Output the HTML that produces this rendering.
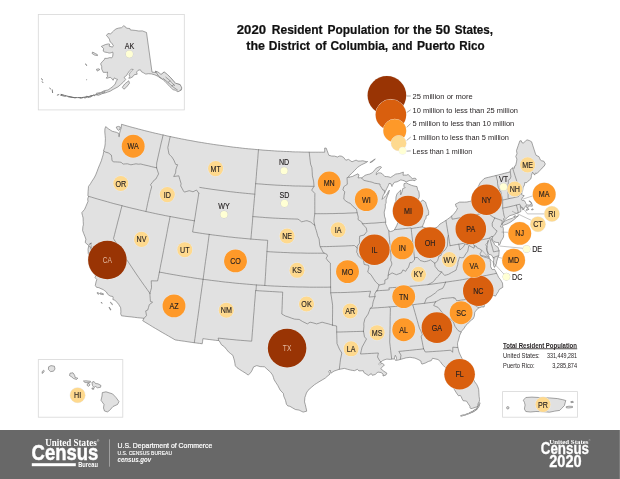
<!DOCTYPE html>
<html><head><meta charset="utf-8"><title>2020 Resident Population</title>
<style>
html,body{margin:0;padding:0;background:#fff;}
body{width:620px;height:479px;overflow:hidden;font-family:"Liberation Sans",sans-serif;}
svg{will-change:transform;display:block;position:absolute;left:0;top:0;}
svg text{font-family:"Liberation Sans",sans-serif;}
.land{fill:#e1e1e1;stroke:#6c6c6c;stroke-width:.6;stroke-linejoin:round;}
.bd{fill:none;stroke:#6c6c6c;stroke-width:.6;stroke-linejoin:round;stroke-linecap:round;}
.box{fill:#fff;stroke:#d8d8d8;stroke-width:.8;}
.pc{stroke:#ececec;stroke-width:.9;paint-order:stroke;}
.pc1{stroke:#c9c9c0;stroke-width:.8;paint-order:stroke;}
.lbl{font-size:8.5px;fill:#231f20;text-anchor:middle;stroke:#231f20;stroke-width:.14;}
.keys1{fill:none;stroke:#6c6c6c;stroke-width:1.5;stroke-linecap:round;}
.keys2{fill:none;stroke:#e1e1e1;stroke-width:.6;stroke-linecap:round;}
.lbl.lt{fill:#e4bba3;stroke:none;}
.lg{font-size:8.1px;fill:#231f20;}
.ld{fill:none;stroke:#8a8a8a;stroke-width:.5;}
.lt2{fill:none;stroke:#555;stroke-width:.5;}
.ttl{font-size:13.4px;font-weight:bold;fill:#111;text-anchor:start;stroke:#111;stroke-width:.22;}
.tp{font-size:6.8px;fill:#231f20;}
</style></head><body>
<svg width="620" height="479" viewBox="0 0 620 479">
<rect x="0" y="0" width="620" height="479" fill="#fff"/>
<text x="236.8" y="33.75" class="ttl" textLength="29.3" lengthAdjust="spacingAndGlyphs">2020</text>
<text x="271.8" y="33.75" class="ttl" textLength="50.8" lengthAdjust="spacingAndGlyphs">Resident</text>
<text x="327.5" y="33.75" class="ttl" textLength="61.8" lengthAdjust="spacingAndGlyphs">Population</text>
<text x="393.9" y="33.75" class="ttl" textLength="15.3" lengthAdjust="spacingAndGlyphs">for</text>
<text x="413" y="33.75" class="ttl" textLength="18.8" lengthAdjust="spacingAndGlyphs">the</text>
<text x="435.6" y="33.75" class="ttl" textLength="14.7" lengthAdjust="spacingAndGlyphs">50</text>
<text x="454.8" y="33.75" class="ttl" textLength="38.2" lengthAdjust="spacingAndGlyphs">States,</text>
<text x="246.3" y="49.7" class="ttl" textLength="18.7" lengthAdjust="spacingAndGlyphs">the</text>
<text x="268.8" y="49.7" class="ttl" textLength="41.3" lengthAdjust="spacingAndGlyphs">District</text>
<text x="315.3" y="49.7" class="ttl" textLength="11.3" lengthAdjust="spacingAndGlyphs">of</text>
<text x="330.5" y="49.7" class="ttl" textLength="57.7" lengthAdjust="spacingAndGlyphs">Columbia,</text>
<text x="392" y="49.7" class="ttl" textLength="20.4" lengthAdjust="spacingAndGlyphs">and</text>
<text x="416.9" y="49.7" class="ttl" textLength="38.4" lengthAdjust="spacingAndGlyphs">Puerto</text>
<text x="459.3" y="49.7" class="ttl" textLength="25.3" lengthAdjust="spacingAndGlyphs">Rico</text>
<g id="conus">
<path class="land" d="M105.7,126.6 L107.2,127.8 L108.7,129.0 L110.5,130.2 L112.3,131.3 L114.4,131.8 L116.4,132.3 L118.9,133.5 L118.8,136.6 L119.3,136.7 L119.6,133.3 L120.2,130.8 L121.3,127.6 L121.5,124.3 L124.3,125.1 L127.1,125.9 L129.9,126.7 L132.8,127.5 L135.6,128.2 L138.5,129.0 L141.3,129.7 L144.2,130.5 L147.0,131.2 L149.9,131.9 L152.7,132.6 L155.6,133.3 L158.5,133.9 L161.3,134.6 L164.2,135.2 L167.1,135.9 L169.9,136.5 L172.8,137.1 L175.7,137.7 L178.6,138.3 L181.5,138.9 L184.3,139.4 L187.2,140.0 L190.1,140.5 L193.0,141.0 L195.9,141.6 L198.8,142.1 L201.7,142.5 L204.6,143.0 L207.5,143.5 L210.4,143.9 L213.3,144.4 L216.2,144.8 L219.2,145.2 L222.1,145.6 L225.0,146.0 L227.9,146.4 L230.8,146.8 L233.7,147.2 L236.7,147.5 L239.6,147.8 L242.5,148.2 L245.4,148.5 L248.4,148.8 L251.3,149.0 L254.2,149.3 L257.2,149.6 L260.1,149.8 L263.0,150.1 L265.9,150.3 L268.9,150.5 L271.8,150.7 L274.8,150.9 L277.7,151.1 L280.6,151.2 L283.6,151.4 L286.5,151.5 L289.4,151.6 L292.4,151.8 L295.3,151.9 L298.3,151.9 L301.2,152.0 L304.1,152.1 L307.1,152.1 L310.0,152.2 L313.0,152.2 L315.9,152.2 L318.8,152.2 L321.8,152.2 L324.7,152.2 L324.7,148.0 L326.2,148.1 L327.2,150.8 L328.2,153.5 L328.9,155.3 L331.5,156.0 L333.0,156.1 L334.5,156.1 L337.4,157.0 L339.4,156.0 L341.2,156.1 L343.5,157.3 L345.8,160.2 L348.5,159.4 L350.3,160.6 L352.0,161.8 L354.1,160.9 L356.1,160.1 L358.0,161.1 L360.5,161.0 L362.9,160.8 L364.9,161.3 L366.8,161.7 L367.6,161.5 L366.2,162.5 L363.8,163.7 L361.4,164.8 L359.5,166.0 L357.6,167.3 L356.1,168.9 L354.6,170.4 L353.1,172.0 L351.6,173.5 L350.0,174.9 L348.5,176.3 L349.1,177.2 L350.7,176.8 L352.3,176.5 L355.3,175.0 L358.0,173.8 L359.0,175.0 L358.0,177.9 L360.5,177.7 L361.5,178.0 L363.3,176.7 L365.0,175.4 L366.5,174.8 L368.1,174.4 L369.8,174.0 L372.5,172.5 L375.0,169.7 L376.4,168.0 L377.9,167.3 L379.3,166.7 L380.5,166.6 L381.5,167.2 L379.6,169.4 L377.8,171.5 L376.4,172.7 L376.3,174.8 L378.3,172.9 L380.6,172.9 L382.2,173.7 L384.8,176.5 L386.4,176.6 L388.0,176.7 L390.7,177.4 L393.2,175.7 L395.6,174.1 L397.4,173.8 L399.3,173.6 L401.3,172.8 L403.4,172.1 L403.0,175.2 L404.7,175.1 L406.5,175.1 L408.3,174.5 L410.6,177.1 L412.4,178.5 L415.1,178.2 L416.4,179.1 L415.0,180.7 L412.6,180.2 L410.8,180.4 L409.1,180.6 L406.3,181.9 L404.0,180.7 L402.4,180.3 L400.8,179.9 L398.9,180.9 L397.1,181.8 L394.4,182.3 L392.3,185.3 L392.0,186.5 L391.0,183.8 L389.0,183.4 L388.4,185.3 L386.7,188.7 L384.7,192.8 L383.0,195.8 L382.4,198.1 L382.1,199.4 L383.9,197.6 L386.5,195.1 L388.5,191.3 L389.4,190.2 L388.7,193.0 L387.4,195.9 L386.1,199.9 L386.1,203.4 L385.3,204.1 L385.3,208.0 L384.2,212.1 L384.5,216.1 L385.6,219.5 L385.7,222.2 L385.6,223.7 L386.7,226.3 L387.8,228.9 L388.8,230.8 L390.4,231.6 L393.1,230.8 L394.5,229.7 L396.7,225.6 L398.2,222.0 L398.3,217.7 L397.6,215.2 L396.8,212.8 L395.8,210.5 L394.8,208.2 L395.1,204.8 L394.5,203.6 L395.8,201.3 L396.0,197.0 L397.0,193.9 L399.3,191.4 L400.7,190.1 L400.7,192.4 L400.7,194.8 L402.1,191.6 L402.8,188.5 L405.2,187.6 L403.9,186.3 L404.0,183.7 L406.4,182.9 L408.6,184.1 L411.7,185.4 L414.0,186.0 L417.0,186.6 L417.6,189.7 L418.9,191.8 L419.2,194.0 L419.3,196.6 L418.6,198.6 L417.0,201.7 L415.9,205.8 L418.6,204.9 L419.6,203.1 L420.5,201.8 L422.8,200.1 L425.6,202.2 L426.3,204.7 L427.1,207.1 L428.7,211.5 L428.6,214.9 L426.2,215.8 L426.0,218.7 L424.7,219.8 L424.2,222.3 L423.1,224.8 L422.3,226.8 L422.8,227.1 L425.8,227.8 L426.8,228.6 L428.6,228.1 L428.9,229.1 L430.6,229.0 L432.3,228.8 L433.2,228.3 L435.1,227.8 L437.1,227.3 L438.5,225.7 L440.0,224.0 L441.9,222.9 L443.8,221.7 L445.9,220.4 L447.6,219.2 L449.2,218.0 L451.6,216.2 L453.0,214.7 L454.5,213.1 L456.5,210.4 L457.5,208.1 L456.3,207.0 L455.4,204.2 L457.4,203.2 L459.5,202.1 L462.0,202.1 L464.5,202.1 L466.9,202.0 L469.3,201.5 L471.7,200.9 L473.4,199.4 L475.2,197.9 L477.4,196.5 L476.7,193.2 L475.4,191.2 L475.0,190.4 L476.4,188.9 L477.8,187.5 L479.0,185.1 L480.2,182.7 L482.1,180.7 L484.1,178.6 L486.0,177.9 L488.5,177.3 L491.0,176.7 L493.5,176.1 L496.0,175.5 L498.8,174.8 L501.7,174.1 L504.5,173.3 L507.4,172.6 L510.2,171.9 L510.4,169.6 L511.8,168.7 L512.6,167.9 L514.5,168.2 L514.4,166.2 L515.5,165.9 L516.5,161.9 L516.9,159.1 L515.8,156.5 L517.0,153.7 L516.5,150.5 L518.2,145.6 L519.9,140.8 L521.3,140.8 L521.9,142.6 L523.2,143.1 L525.4,141.2 L527.0,139.8 L529.7,140.7 L531.6,141.8 L532.9,145.9 L534.2,149.9 L535.5,153.9 L536.1,155.3 L539.0,156.7 L540.3,159.9 L541.7,160.8 L543.7,161.1 L545.3,163.9 L544.1,166.3 L542.7,167.3 L541.6,168.9 L539.6,170.6 L538.7,171.7 L537.1,173.4 L535.3,173.1 L534.7,175.1 L532.6,172.2 L531.4,175.4 L531.4,176.6 L530.8,178.9 L529.1,180.4 L528.0,181.1 L526.8,182.6 L524.7,182.6 L524.5,184.9 L523.7,186.4 L523.0,187.8 L522.7,190.4 L522.0,191.3 L521.8,193.4 L521.8,194.3 L522.7,195.4 L524.1,195.5 L523.7,196.6 L522.3,197.6 L521.6,199.8 L522.3,200.6 L522.9,200.1 L524.5,200.8 L525.5,202.5 L525.8,203.4 L527.2,205.0 L529.3,205.1 L531.5,203.8 L530.6,202.3 L529.1,201.3 L528.8,201.0 L529.8,200.9 L531.3,202.4 L532.2,204.9 L532.3,206.2 L529.7,206.0 L527.4,207.6 L526.9,208.1 L526.6,205.7 L525.8,205.7 L524.6,207.8 L523.7,209.2 L523.4,209.4 L522.8,209.9 L521.8,207.9 L520.2,206.6 L520.9,209.9 L520.8,211.6 L517.9,212.9 L516.0,213.6 L514.1,214.4 L511.9,215.1 L509.7,215.7 L507.5,217.4 L505.0,219.6 L504.2,220.1 L503.5,221.5 L503.5,222.5 L502.3,223.0 L502.0,224.0 L501.4,224.7 L500.4,226.7 L501.1,227.1 L502.7,226.5 L503.3,228.3 L503.3,230.9 L503.7,234.5 L503.5,237.0 L502.1,239.5 L501.1,240.8 L499.9,244.5 L498.7,245.3 L498.6,242.5 L496.1,242.4 L493.9,241.5 L492.5,240.1 L491.9,238.7 L491.8,239.1 L492.0,240.8 L493.6,242.1 L494.6,244.7 L495.8,245.9 L497.9,247.0 L498.3,248.1 L499.1,250.8 L499.1,252.2 L498.8,255.7 L497.9,257.4 L496.6,261.8 L496.5,263.5 L495.3,266.1 L494.5,267.4 L493.6,265.6 L493.4,263.0 L493.6,260.4 L494.1,257.9 L493.0,257.6 L491.8,255.3 L490.1,254.5 L489.1,254.7 L488.1,253.2 L487.4,250.6 L487.0,248.8 L487.3,246.6 L487.1,245.5 L487.8,242.6 L488.5,240.4 L487.9,240.6 L487.8,242.2 L486.5,243.7 L485.8,244.7 L486.5,246.2 L486.4,247.5 L486.6,250.6 L488.1,253.7 L487.9,254.7 L489.4,257.4 L486.6,256.7 L483.3,255.9 L481.0,255.7 L483.4,256.8 L486.8,257.7 L490.2,259.1 L490.3,261.6 L490.6,262.2 L490.7,263.6 L490.6,265.4 L490.6,266.5 L491.8,269.2 L492.2,269.5 L494.6,269.4 L495.1,270.2 L496.6,273.3 L497.7,275.4 L498.6,277.3 L500.4,279.5 L501.5,281.3 L502.5,283.1 L502.8,287.3 L501.0,288.4 L499.1,289.6 L498.4,291.5 L496.9,293.8 L495.4,296.2 L493.9,295.3 L492.0,296.0 L490.2,296.8 L488.2,298.5 L486.2,300.5 L484.8,302.9 L484.1,307.0 L481.8,306.9 L478.8,307.9 L476.1,310.3 L474.8,312.2 L474.3,316.3 L473.2,318.8 L471.1,320.3 L468.6,322.7 L467.0,324.5 L465.4,325.9 L464.3,328.0 L462.3,330.4 L460.9,332.0 L461.1,332.3 L459.7,335.4 L458.8,338.9 L457.7,342.5 L457.5,343.9 L457.7,345.9 L457.8,347.5 L458.0,347.8 L459.0,352.0 L459.9,354.1 L460.9,356.2 L462.1,358.6 L463.3,361.0 L464.7,363.6 L466.0,365.3 L468.3,368.2 L470.6,371.1 L470.2,372.9 L470.9,375.3 L472.2,377.5 L473.6,379.7 L474.7,381.8 L476.6,384.3 L477.9,386.9 L478.7,389.6 L478.9,392.9 L479.1,396.3 L479.5,399.6 L479.4,401.1 L478.0,403.8 L477.8,406.6 L475.2,407.4 L472.5,408.3 L471.0,408.6 L469.9,407.7 L469.9,406.2 L468.2,403.7 L466.5,401.1 L463.1,400.7 L462.0,398.7 L461.2,396.5 L460.0,395.4 L458.5,395.8 L456.4,392.9 L454.0,388.9 L452.4,386.6 L450.3,384.6 L450.5,383.8 L452.1,383.0 L452.5,379.8 L451.2,382.0 L448.9,379.8 L448.9,377.8 L449.3,375.3 L449.0,372.3 L448.7,369.4 L445.1,367.3 L443.5,365.6 L442.1,364.3 L440.5,361.8 L438.0,359.5 L435.2,358.9 L432.5,358.3 L431.3,360.6 L428.3,361.5 L425.2,363.1 L421.9,364.1 L421.2,362.7 L420.9,361.0 L418.0,359.4 L414.9,358.1 L412.4,357.7 L410.0,357.3 L408.0,357.6 L406.1,357.8 L403.8,358.5 L400.3,359.4 L398.6,360.0 L395.5,360.4 L396.5,358.4 L396.2,357.0 L395.3,355.3 L394.5,357.4 L394.4,359.3 L393.1,358.9 L391.7,359.1 L390.3,359.4 L386.9,359.1 L385.0,359.6 L382.6,360.6 L381.0,362.0 L379.4,363.4 L382.3,363.4 L384.4,364.9 L382.6,366.8 L380.7,368.6 L383.8,371.2 L386.9,373.2 L385.8,375.1 L383.0,376.0 L383.1,374.0 L381.0,372.5 L378.0,372.1 L377.1,372.7 L375.2,374.5 L372.3,375.3 L371.3,373.6 L368.4,375.5 L366.1,374.0 L363.9,372.6 L363.3,370.7 L361.1,370.8 L358.9,370.9 L357.4,369.3 L354.5,370.7 L352.5,370.4 L350.6,370.1 L347.5,369.3 L344.4,368.4 L341.9,368.9 L339.3,369.3 L336.7,370.2 L334.0,371.1 L330.9,373.2 L330.1,370.0 L328.7,371.7 L330.1,374.0 L327.0,376.5 L325.3,378.1 L322.1,380.0 L318.9,381.9 L316.7,383.3 L314.5,384.7 L311.2,387.5 L308.0,390.4 L306.4,393.0 L305.7,395.2 L304.9,397.4 L304.5,401.9 L305.3,404.6 L305.9,407.3 L306.5,410.0 L306.7,411.2 L303.1,412.1 L301.1,411.1 L299.1,410.1 L295.4,409.5 L292.6,407.9 L289.9,406.3 L287.8,405.9 L286.4,404.2 L285.5,400.3 L283.8,396.3 L283.4,393.5 L280.1,390.0 L277.8,385.5 L275.9,382.6 L274.1,379.7 L273.4,377.4 L272.6,375.1 L270.5,372.2 L269.1,371.0 L266.8,368.9 L264.5,366.8 L262.3,366.7 L260.1,366.6 L256.8,365.6 L253.6,366.9 L251.7,371.1 L250.4,372.9 L248.3,375.1 L245.0,372.8 L242.5,371.3 L239.7,369.5 L236.9,367.6 L235.3,365.8 L234.9,363.3 L234.5,360.9 L233.7,358.2 L232.9,355.4 L230.6,353.6 L228.4,351.8 L226.5,349.4 L224.5,346.9 L221.4,344.7 L219.4,341.1 L218.7,340.6 L215.5,340.3 L212.4,339.9 L209.2,339.5 L206.0,339.1 L202.9,338.7 L202.6,341.3 L202.2,343.8 L199.6,343.4 L196.9,343.1 L194.3,342.7 L191.1,342.3 L187.9,341.8 L184.8,341.3 L181.6,340.9 L178.4,340.4 L175.2,339.9 L171.9,338.0 L168.6,336.1 L165.3,334.2 L162.1,332.4 L158.8,330.4 L155.5,328.5 L152.3,326.6 L149.1,324.6 L145.9,322.7 L142.7,320.7 L144.0,318.3 L140.8,318.0 L137.6,317.7 L134.4,317.3 L131.2,316.9 L128.0,316.6 L124.7,316.2 L121.5,315.8 L120.7,313.9 L120.9,311.9 L120.7,307.8 L118.6,304.3 L116.9,302.3 L114.8,300.1 L112.9,299.6 L113.1,297.3 L112.8,296.5 L110.1,296.0 L107.7,294.3 L106.4,292.0 L104.8,290.8 L103.2,289.6 L101.0,288.7 L98.9,287.7 L96.5,287.3 L95.3,285.5 L96.0,281.9 L96.8,279.5 L95.0,277.6 L95.7,276.0 L94.1,273.8 L92.9,272.1 L91.5,268.3 L90.2,264.5 L89.4,263.7 L90.0,260.0 L91.8,258.5 L90.3,256.3 L88.3,253.8 L88.0,249.2 L88.7,246.1 L90.0,246.2 L91.3,250.4 L92.1,250.9 L91.1,246.6 L91.0,245.1 L90.4,243.4 L91.6,243.2 L89.6,243.8 L89.1,245.4 L88.6,245.5 L86.9,244.0 L85.2,242.5 L85.9,239.2 L84.9,236.5 L83.7,233.5 L82.6,230.5 L82.9,226.5 L83.4,224.9 L83.2,221.4 L83.1,217.9 L82.4,215.3 L81.8,212.7 L84.6,209.3 L85.8,206.6 L86.9,204.0 L88.0,201.4 L87.7,199.0 L88.5,196.3 L87.9,195.5 L88.1,191.4 L88.3,188.9 L88.5,186.4 L90.5,183.7 L91.8,181.4 L94.1,178.0 L95.7,174.9 L97.0,171.6 L98.2,168.3 L99.7,164.7 L101.3,160.8 L102.2,157.8 L103.1,154.9 L103.8,151.2 L103.6,150.6 L104.7,147.2 L105.2,143.8 L105.2,142.6 L105.4,138.6 L105.1,135.3 L104.8,132.0 L104.9,128.9Z"/>
<path class="land" d="M502.0,224.9 L502.3,223.7 L503.1,222.6 L504.0,221.8 L505.7,220.6 L507.4,219.9 L509.1,219.3 L510.7,218.7 L512.4,218.2 L513.8,216.8 L515.2,215.4 L514.4,217.5 L516.5,216.5 L518.6,215.6 L516.3,217.6 L514.1,219.5 L512.2,220.9 L510.4,222.2 L508.5,223.2 L506.5,224.2 L504.9,224.7 L503.3,225.3 L502.5,225.4Z"/>
<path class="land" d="M116.2,127.1 L118.4,126.4 L120.4,127.0 L120.0,128.9 L118.7,130.4 L117.4,129.5Z M369.9,162.6 L372.0,161.0 L374.2,159.5 L375.3,159.1 L373.7,160.5 L372.1,161.9Z M100.5,292.8 L103.5,293.8 L103.3,294.7 L100.1,294.1Z M97.2,292.5 L99.4,293.3 L98.6,294.3 L97.4,293.7Z M110.5,302.2 L112.7,304.2 L112.3,304.7 L110.4,302.8Z M109.3,307.1 L111.0,310.0 L110.5,310.1 L109.1,307.4Z M101.1,302.2 L102.3,303.2 L101.6,303.2Z M526.1,210.3 L527.6,208.4 L529.1,209.2 L527.2,210.2Z M531.3,209.5 L532.9,208.8 L533.3,209.5 L531.9,210.0Z"/>
<ellipse id="pontch" cx="379.8" cy="363.9" rx="1.4" ry=".8" fill="#fff" stroke="#8c8c8c" stroke-width=".4" transform="rotate(-20 379.8 363.9)"/>
<path class="bd" d="M104.0,151.0 L105.3,152.0 L108.3,152.9 L109.8,153.9 L111.3,155.0 L111.8,157.8 L112.0,160.7 L113.8,161.9 L115.7,161.9 L117.5,162.0 L119.3,162.1 L121.1,162.3 L123.1,164.1 L125.3,163.9 L127.5,163.8 L129.2,164.3 L130.9,164.8 L133.5,164.3 L136.0,163.8 L138.3,164.2 L140.8,164.0 L143.4,164.7 L146.0,165.3 L148.7,165.9 L151.3,166.6 L153.9,167.2 L156.6,167.8 M163.1,135.0 L162.2,139.0 L161.2,142.9 L160.3,146.9 L159.4,150.9 L158.5,154.9 L157.6,159.0 L156.7,163.0 L156.6,165.4 L156.6,167.8 M156.6,167.8 L157.6,170.9 L158.6,173.9 L157.2,176.5 L155.8,179.1 L154.4,179.9 L152.4,182.4 L150.5,184.8 L151.7,186.8 L151.0,189.2 L150.3,191.7 L149.4,195.6 L148.5,199.6 L147.6,203.5 L146.8,207.5 L145.9,211.5 M88.5,196.3 L91.6,197.2 L94.8,198.2 L97.9,199.1 L101.1,200.0 L104.3,200.9 L107.5,201.8 L110.6,202.7 L113.8,203.6 L117.0,204.4 L120.2,205.2 L123.4,206.1 L126.6,206.9 L129.8,207.7 L133.0,208.5 L136.2,209.2 L139.4,210.0 L142.6,210.7 L145.8,211.5 L149.1,212.2 L152.3,212.9 L155.5,213.6 L158.7,214.3 L162.0,214.9 L165.2,215.6 L168.4,216.2 L171.7,216.8 L174.9,217.4 L178.2,218.0 L181.4,218.6 L184.7,219.2 L187.9,219.7 L191.2,220.3 L194.4,220.8 M122.0,205.7 L120.9,209.8 L119.9,213.9 L118.8,218.0 L117.7,222.1 L116.7,226.2 L115.6,230.3 L114.6,234.4 L113.5,238.6 L115.9,242.5 L118.4,246.5 L120.8,250.4 L123.3,254.3 L125.8,258.3 L128.4,262.2 L131.0,266.1 L133.6,270.0 L136.2,273.9 L138.9,277.8 L141.6,281.7 L144.3,285.5 L147.1,289.4 L149.9,293.3 M149.9,293.3 L150.0,295.6 L150.2,298.5 L150.4,301.4 L152.6,302.2 L149.3,304.7 L148.5,307.4 L147.7,310.1 L145.7,310.9 L146.5,315.6 L144.0,318.3 M149.9,293.3 L150.7,290.5 L151.5,287.8 L151.4,284.3 L151.2,280.8 L154.4,280.9 L157.6,280.9 L158.5,276.5 L159.4,272.1 M159.4,272.1 L160.2,267.8 L161.0,263.5 L161.9,259.2 L162.7,255.0 L163.5,250.7 L164.3,246.4 L165.1,242.1 L166.0,237.9 L166.8,233.6 L167.6,229.3 L168.4,225.1 L169.3,220.8 L170.1,216.5 M159.4,272.1 L162.9,272.7 L166.3,273.4 L169.8,274.0 L173.2,274.6 L176.7,275.2 L180.2,275.8 L183.6,276.4 L187.1,276.9 L190.6,277.4 L194.0,278.0 L197.5,278.5 L201.0,279.0 L204.5,279.5 L208.0,279.9 L211.4,280.4 L214.9,280.8 L218.4,281.2 L221.9,281.7 L225.4,282.1 L228.9,282.4 L232.4,282.8 L235.9,283.2 L239.4,283.5 L242.9,283.8 L246.4,284.1 L249.9,284.4 L253.4,284.7 L256.9,285.0 L260.4,285.2 L263.9,285.4 L267.4,285.7 L270.9,285.9 L274.4,286.1 L277.9,286.2 L281.5,286.4 L285.0,286.5 L288.5,286.7 L292.0,286.8 L295.5,286.9 L299.0,287.0 L302.5,287.0 L306.0,287.1 L309.6,287.2 L313.1,287.2 L316.6,287.2 L320.1,287.2 L323.6,287.2 L327.1,287.2 L330.6,287.1 M203.1,279.3 L203.7,274.8 L204.3,270.3 L204.9,265.8 L205.5,261.3 L206.2,256.8 L206.8,252.4 L207.4,247.9 L208.0,243.4 L208.6,238.9 L209.2,234.4 M194.4,220.8 L193.8,224.5 L193.2,228.2 L192.6,232.0 L196.0,232.5 L199.3,233.0 L202.6,233.5 L205.9,234.0 L209.2,234.4 M194.4,220.8 L195.1,216.9 L195.7,212.9 L196.3,209.0 L196.9,205.0 L197.6,201.1 L198.2,197.1 L198.8,193.2 M198.8,193.2 L196.5,190.0 L193.0,191.8 L191.1,191.2 L189.2,190.7 L186.8,191.4 L184.4,192.1 L183.4,190.9 L182.1,188.4 L180.7,185.9 L181.1,183.7 L179.9,179.7 L178.8,175.8 L176.2,176.2 L173.7,176.5 L175.6,172.9 L175.9,169.5 L176.7,167.1 L177.6,164.7 L175.7,164.4 L173.8,160.0 L171.7,156.7 L170.4,155.5 L169.0,154.2 L168.4,150.9 L167.8,147.6 L168.6,143.9 L169.4,140.2 L170.2,136.5 M199.8,187.4 L202.8,187.9 L205.8,188.4 L208.9,188.8 L211.9,189.3 L215.0,189.7 L218.0,190.1 L221.1,190.5 L224.1,190.9 L227.2,191.3 L230.2,191.7 L233.3,192.0 L236.4,192.4 L239.4,192.7 L242.5,193.0 L245.6,193.3 L248.6,193.6 L251.7,193.9 L254.8,194.2 M258.5,149.7 L258.1,154.1 L257.8,158.5 L257.4,163.0 L257.0,167.4 L256.6,171.8 L256.3,176.3 L255.9,180.8 L255.5,185.2 L255.1,189.7 L254.8,194.2 L254.4,198.6 L254.0,203.1 L253.6,207.6 L253.2,212.1 L252.8,216.6 L252.5,221.1 L252.1,225.6 L251.7,230.1 L251.3,234.6 L250.9,239.1 M255.6,183.7 L258.7,183.9 L261.8,184.1 L264.8,184.4 L267.9,184.6 L271.0,184.8 L274.1,185.0 L277.1,185.2 L280.2,185.3 L283.3,185.5 L286.3,185.6 L289.4,185.7 L292.5,185.9 L295.6,186.0 L298.6,186.0 L301.7,186.1 L304.8,186.2 L307.9,186.2 L311.0,186.3 L314.0,186.3 M252.8,216.6 L256.1,216.8 L259.3,217.1 L262.5,217.3 L265.7,217.6 L269.0,217.8 L272.2,218.0 L275.4,218.2 L278.6,218.3 L281.9,218.5 L285.1,218.6 L288.3,218.8 L291.6,218.9 L294.8,219.0 L298.0,219.1 L299.8,220.4 L301.6,221.8 L303.5,221.4 L305.3,220.9 L307.0,220.7 L308.9,221.4 L310.8,222.1 L312.7,223.8 L314.7,225.1 M209.2,234.4 L212.5,234.9 L215.7,235.3 L219.0,235.7 L222.2,236.1 L225.4,236.5 L228.7,236.9 L231.9,237.2 L235.2,237.6 L238.4,237.9 L241.7,238.2 L244.9,238.5 L248.2,238.8 L251.4,239.1 L254.7,239.4 L257.9,239.6 L261.2,239.9 L264.4,240.1 L267.7,240.3 L267.4,244.8 L267.1,249.3 L266.8,253.9 L266.5,258.4 L266.2,262.9 L265.9,267.4 L265.7,271.9 L265.4,276.5 L265.1,281.0 L264.8,285.5 M267.0,251.6 L270.3,251.8 L273.7,252.0 L277.1,252.2 L280.4,252.3 L283.8,252.5 L287.2,252.6 L290.5,252.8 L293.9,252.9 L297.3,253.0 L300.7,253.0 L304.0,253.1 L307.4,253.2 L310.8,253.2 L314.2,253.2 L317.5,253.2 L320.9,253.2 L324.3,253.2 M203.1,279.3 L202.5,283.5 L201.9,287.7 L201.3,292.0 L200.7,296.2 L200.1,300.5 L199.5,304.7 L199.0,308.9 L198.4,313.1 L197.8,317.4 L197.2,321.6 L196.6,325.8 L196.0,330.0 L195.5,334.3 L194.9,338.5 L194.3,342.7 M256.4,284.9 L256.2,287.7 L256.0,290.6 L255.6,290.5 L255.3,294.8 L255.0,299.0 L254.6,303.2 L254.3,307.4 L254.0,311.7 L253.6,315.9 L253.3,320.1 L253.0,324.3 L252.7,328.6 L252.3,332.8 L252.0,337.0 L251.7,341.2 L247.9,340.9 L244.2,340.6 L240.5,340.3 L236.8,340.0 L233.0,339.6 L229.3,339.3 L225.6,338.9 L221.9,338.5 L218.1,338.1 L218.7,340.6 M256.0,290.6 L259.3,290.8 L262.7,291.0 L266.0,291.2 L269.3,291.4 L272.7,291.6 L276.0,291.8 L279.4,292.0 L282.7,292.1 L282.5,296.5 L282.3,300.9 L282.2,305.3 L282.0,309.6 L281.8,314.0 L283.6,315.0 L285.4,316.0 L289.0,317.2 L291.7,318.2 L294.5,319.1 L296.8,319.3 L299.1,319.4 L302.7,321.6 L305.0,322.7 L307.3,323.9 L310.1,322.2 L312.9,322.8 L316.6,323.9 L319.3,323.1 L322.1,322.2 L325.3,323.1 L328.6,323.9 L330.5,324.5 L332.5,325.1 M330.6,287.1 L330.7,289.9 L330.7,292.8 L331.4,296.9 L332.0,301.0 L332.6,305.2 L332.6,309.2 L332.6,313.1 L332.5,317.1 L332.5,321.1 L332.5,325.1 M332.5,325.1 L334.5,325.6 L336.6,326.0 L336.7,329.0 L336.7,332.0 L336.8,335.9 L336.9,339.7 L337.0,343.6 L338.2,346.3 L339.4,349.1 L341.8,353.0 L341.2,356.1 L340.5,359.2 L340.1,362.6 L339.7,365.9 L339.3,369.3 M336.7,332.0 L340.1,332.0 L343.4,331.9 L346.8,331.8 L350.1,331.7 L353.5,331.6 L356.8,331.5 L360.2,331.4 L363.5,331.3 M363.5,331.3 L364.0,334.1 L364.5,336.9 L366.5,339.0 L364.3,343.1 L362.1,347.1 L361.3,350.5 L360.5,354.0 L364.1,353.8 L367.7,353.6 L371.3,353.4 L374.9,353.2 L378.4,353.0 L377.5,357.0 L379.7,360.8 L381.0,362.0 M391.7,359.1 L391.2,354.8 L390.7,350.6 L390.2,346.4 L389.7,342.1 L389.8,337.9 L389.9,333.6 L390.0,329.4 L390.1,325.1 L390.1,320.8 L390.2,316.6 L390.3,312.3 L390.4,308.1 L389.3,306.9 M400.3,359.4 L401.0,355.1 L398.8,351.4 L402.3,351.1 L405.9,350.7 L409.4,350.4 L412.9,350.0 L416.5,349.6 L420.0,349.3 L423.6,348.8 M423.6,348.8 L422.9,345.5 L422.3,342.2 L421.7,339.4 L421.2,336.7 L422.3,334.3 L421.7,332.6 L420.6,330.4 L419.4,328.1 L418.3,324.3 L417.2,320.4 L416.1,316.5 L415.0,312.6 L413.9,308.8 L412.8,304.9 M423.6,348.8 L425.3,352.0 L428.9,351.8 L432.5,351.6 L436.2,351.3 L439.8,351.1 L443.4,350.8 L447.0,350.5 L450.7,350.2 L452.6,352.3 L452.8,349.9 L452.8,347.2 L455.3,347.4 L457.8,347.5 M370.3,308.3 L373.9,308.0 L377.5,307.8 L381.2,307.5 L384.8,307.3 L388.4,307.0 L392.0,306.7 L395.7,306.4 L399.3,306.0 L402.9,305.7 L406.5,305.3 L410.1,304.9 L413.8,304.6 L417.4,304.1 L421.0,303.7 L424.6,303.3 L428.2,302.8 L431.8,302.4 L435.4,301.9 M435.4,301.9 L433.7,305.5 L435.9,306.5 L438.1,307.4 L440.1,309.9 L442.1,312.4 L445.9,316.4 L448.4,317.5 L450.8,319.5 L453.3,321.5 L454.1,324.0 L455.0,326.4 L458.0,330.5 L460.9,332.0 M435.4,301.9 L438.5,300.3 L441.5,298.7 L444.5,298.4 L447.6,298.1 L450.7,297.8 L453.7,297.5 L453.9,298.6 L454.9,297.8 L456.7,300.8 L460.1,300.3 L463.4,299.8 L466.8,299.3 L470.7,302.2 L474.7,305.1 L478.8,307.9 M424.5,303.3 L426.4,298.5 L428.7,297.2 L431.0,296.0 L433.1,294.5 L435.2,293.1 L436.8,291.6 L438.4,290.0 L440.6,289.2 L442.7,288.3 L444.1,285.8 L445.6,282.2 M445.6,282.2 L449.0,281.7 L452.4,281.2 L455.8,280.7 L459.3,280.2 L462.7,279.6 L466.1,279.0 L469.5,278.5 L472.9,277.9 L476.3,277.3 L479.7,276.6 L483.1,276.0 L486.5,275.4 L489.9,274.7 L493.3,274.0 L496.6,273.3 M445.6,282.2 L442.1,282.7 L438.5,283.2 L435.0,283.7 L431.5,284.2 L427.9,284.6 L424.4,285.0 L420.8,285.3 L417.3,285.7 L413.8,286.0 L410.2,286.3 L406.7,286.6 L403.1,286.9 L399.6,287.2 L396.0,287.4 L392.5,287.6 L388.9,287.9 L389.3,289.9 L386.1,290.2 L382.8,290.4 L379.6,290.6 L376.4,290.9 M427.9,284.6 L430.2,283.5 L432.4,282.3 L434.6,280.3 L435.9,278.4 L437.4,276.9 L439.0,275.3 L441.5,272.0 M441.5,272.0 L438.6,270.9 L437.2,269.1 L435.1,266.5 L434.6,263.1 M441.5,272.0 L444.6,275.4 L446.5,274.9 L448.5,274.3 L451.5,272.6 L453.8,271.4 L456.1,270.1 L456.5,268.6 L457.8,264.3 L457.9,262.4 L458.7,259.8 L459.6,257.1 L461.0,257.8 L463.5,257.6 L465.9,253.8 L467.8,251.2 L468.3,248.3 L468.9,245.4 L471.4,246.8 L474.0,248.2 L474.5,245.9 M474.5,245.9 L473.6,244.8 L473.0,242.9 L469.8,242.4 L467.9,244.7 L464.9,243.9 L463.7,246.6 L461.6,248.5 L459.8,250.0 L459.3,247.1 L458.8,244.2 M474.5,245.9 L476.2,246.1 L477.2,247.9 L479.2,248.6 L481.3,249.9 L481.3,251.7 L480.1,253.6 L480.5,255.5 M450.1,245.7 L453.4,245.1 L456.7,244.5 L460.0,244.0 L463.3,243.4 L466.7,242.8 L470.0,242.1 L473.3,241.5 L476.6,240.8 L479.9,240.2 L483.2,239.5 L486.5,238.8 L489.8,238.1 L491.1,236.4 L492.7,236.6 M489.8,238.1 L490.7,241.6 L491.6,245.0 L492.6,248.4 L493.5,251.9 L496.3,251.3 L499.1,250.8 M493.1,257.9 L495.1,256.9 L496.7,256.3 L498.4,255.8 M450.1,245.7 L449.4,241.5 L448.7,237.2 L448.0,233.0 L447.3,228.8 L446.6,224.6 L445.9,220.4 M448.4,235.4 L447.7,238.2 L447.7,242.0 L447.3,246.3 L444.9,250.2 L442.1,252.1 L440.9,255.4 L438.9,256.2 L437.7,260.4 L435.9,262.7 L434.6,263.1 L432.1,261.2 L430.6,259.9 L428.6,260.7 L426.5,261.4 L424.3,261.7 L422.3,261.1 L420.2,260.5 L417.3,257.4 L414.5,257.8 L414.5,260.0 L411.8,262.6 L410.0,262.5 L409.2,265.0 L408.4,267.6 L407.6,268.0 L405.7,271.3 L402.9,269.9 L401.5,272.8 L398.9,273.8 L396.4,274.7 L394.2,273.8 L392.1,272.9 L390.2,274.1 L388.2,275.2 L387.9,278.6 L384.9,280.0 L384.8,283.8 L381.9,284.4 L379.1,285.0 M414.5,257.8 L414.0,253.6 L413.6,249.4 L413.1,245.2 L412.6,241.1 L412.1,236.9 L411.6,232.7 L411.2,228.6 M422.3,226.8 L419.5,227.3 L416.7,227.7 L413.9,228.1 L411.2,228.6 L411.1,227.9 L408.3,228.2 L405.5,228.5 L402.8,228.8 L400.0,229.1 L397.3,229.4 L394.5,229.7 M388.8,230.8 L389.1,235.2 L389.5,239.6 L389.9,244.1 L390.3,248.5 L390.7,252.9 L391.0,257.4 L390.7,260.2 L391.8,263.0 L391.7,264.9 L389.9,268.1 L388.8,271.4 L388.2,275.2 M385.7,222.2 L382.8,222.4 L379.9,222.6 L377.0,222.9 L374.0,223.1 L371.1,223.2 L368.2,223.4 L365.3,223.6 L362.4,223.7 M349.1,177.2 L347.0,177.6 L347.2,180.9 L347.3,184.3 L345.5,185.5 L343.8,186.7 L342.9,189.9 L344.8,191.8 L344.1,195.3 L343.8,199.2 L346.0,201.2 L348.7,202.8 L350.1,203.2 L353.3,206.7 L356.5,209.4 L357.1,212.7 L358.3,217.2 L358.0,219.5 L359.9,220.8 L361.8,222.1 L362.4,223.7 L364.3,225.9 L366.3,228.0 L366.9,231.4 L364.2,235.0 L361.9,235.5 L359.7,236.1 L359.4,239.2 L359.6,243.1 L357.2,246.1 L357.2,248.0 L356.7,252.3 L357.4,253.1 L358.1,255.7 L360.8,258.1 L363.5,260.5 L364.2,264.4 L366.4,264.9 L368.6,265.3 L368.9,267.2 L368.3,269.7 L367.7,272.1 L370.9,274.6 L373.2,278.2 L375.6,281.8 L379.1,285.0 L378.2,287.9 L377.3,290.8 L376.4,290.9 L374.8,293.8 L375.0,296.6 L374.0,299.2 L373.1,301.9 L372.7,304.3 L372.3,306.7 L370.3,308.3 L369.2,311.2 L368.1,314.1 L364.9,318.8 L363.8,323.3 L363.9,326.7 L363.5,331.3 M314.8,213.7 L317.8,213.7 L320.8,213.7 L323.8,213.7 L326.9,213.7 L329.9,213.6 L332.9,213.6 L335.9,213.5 L338.9,213.4 L342.0,213.4 L345.0,213.3 L348.0,213.1 L351.0,213.0 L354.1,212.9 L357.1,212.7 M320.3,246.7 L323.4,246.6 L326.5,246.6 L329.6,246.5 L332.7,246.4 L335.8,246.3 L338.9,246.2 L342.0,246.1 L345.1,246.0 L348.2,245.8 L351.3,245.7 L354.4,245.5 L357.2,248.0 M314.7,225.1 L315.5,228.4 L316.3,230.6 L317.0,233.2 L317.6,235.7 L319.1,239.0 L319.4,241.9 L319.8,245.5 L320.3,246.7 L321.8,249.7 L323.3,252.7 L324.3,253.2 L326.9,254.3 L327.5,256.0 L326.1,258.2 L327.9,260.9 L330.4,263.1 L330.4,267.1 L330.5,271.1 L330.5,275.1 L330.6,279.1 L330.6,283.1 L330.6,287.1 M314.7,225.1 L313.9,221.0 L314.3,217.1 L314.8,213.7 L314.8,209.7 L314.8,205.6 L314.8,201.6 L314.8,197.5 L314.9,193.5 L311.7,190.1 L314.0,186.3 L313.7,181.9 L313.1,178.9 L312.4,175.9 L312.2,171.8 L311.9,167.7 L310.6,164.2 L310.2,160.9 L309.8,157.7 L309.5,154.9 L309.2,152.2 M330.7,292.8 L334.0,292.7 L337.4,292.6 L340.7,292.6 L344.0,292.5 L347.3,292.4 L350.7,292.2 L354.0,292.1 L357.3,292.0 L360.6,291.8 L364.0,291.6 L367.3,291.4 L370.6,291.2 L369.8,294.1 L369.0,297.0 L372.0,296.8 L375.0,296.6 M361.5,178.0 L364.0,180.4 L366.7,181.0 L369.4,181.6 L372.1,182.2 L374.5,183.2 L377.2,183.6 L380.0,184.0 L380.1,185.5 L381.5,187.8 L382.9,190.1 L384.1,190.0 L384.7,192.8 M451.6,216.2 L452.1,219.2 L455.1,218.7 L458.1,218.1 L461.1,217.6 L464.1,217.0 L467.0,216.4 L470.0,215.9 L473.0,215.3 L476.0,214.7 L479.0,214.1 L481.9,213.4 L484.9,212.8 L487.9,212.1 L491.3,216.0 L494.7,218.0 M494.7,218.0 L493.5,220.6 L492.2,223.1 L492.3,226.3 L495.2,229.6 L497.1,230.9 L494.8,234.9 L492.7,236.6 L491.9,238.7 M494.7,218.0 L498.5,219.3 L502.2,220.6 L502.0,224.0 M510.2,171.9 L510.5,173.1 L510.9,176.8 L510.0,179.0 L508.1,180.4 L508.4,182.3 L508.0,185.0 L507.7,187.7 L507.5,190.3 L508.1,194.3 L508.1,197.5 L509.1,198.6 M496.0,175.5 L496.7,178.2 L497.5,181.0 L497.5,183.3 L498.2,187.2 L499.3,189.2 L499.3,191.0 L500.7,191.2 L501.3,194.3 L502.0,197.3 L502.6,200.0 M502.6,200.0 L504.8,199.6 L507.0,199.1 L509.1,198.6 L512.2,198.0 L515.3,197.3 L518.4,196.6 L518.7,196.1 L519.1,195.2 L520.3,194.1 L521.7,193.7 M502.6,200.0 L502.7,204.1 L502.7,208.1 L503.4,212.3 L504.2,216.5 L505.0,217.3 L503.3,219.0 L504.2,220.1 M502.7,208.1 L505.5,207.6 L508.3,207.0 L511.0,206.4 L513.7,205.7 L516.4,205.1 L518.1,204.6 L519.7,204.2 L520.1,205.5 L520.5,205.4 L520.8,206.7 L522.2,207.5 L522.8,207.7 L523.4,209.4 M516.4,205.1 L517.0,207.3 L517.6,209.6 L518.1,211.6 L517.9,212.9 M522.0,191.3 L520.7,189.9 L519.0,188.3 L518.5,186.4 L517.3,182.7 L516.1,179.0 L514.9,175.3 L513.7,171.6 L512.6,167.9"/>
<path class="keys1" d="M461.2,415.8 L465,414.9 L469,413.4 L473,411.5 L476.5,409.2 L478.8,406 L479.6,403.2"/><path class="keys2" d="M461.2,415.8 L465,414.9 L469,413.4 L473,411.5 L476.5,409.2 L478.8,406 L479.6,403.2"/>
</g>
<rect class="box" x="38.3" y="14.4" width="146" height="95.5"/>
<rect class="box" x="38.3" y="359.6" width="84.5" height="57.6"/>
<rect class="box" x="502.6" y="391.6" width="74.8" height="25.6"/>
<path class="land" d="M146.5,32.5 L152.0,72.1 L155.9,72.5 L155.9,71.3 L159.9,75.4 L162.1,74.1 L163.9,72.2 L164.9,72.8 L168.1,75.8 L169.8,76.9 L173.9,81.6 L175.2,83.5 L179.8,84.4 L181.1,87.6 L181.3,90.1 L179.4,90.6 L177.7,89.9 L177.9,87.2 L175.6,86.1 L174.0,83.8 L171.5,81.8 L169.9,79.1 L167.3,78.0 L165.6,75.8 L165.2,78.0 L163.9,78.3 L163.0,79.4 L160.4,78.2 L158.1,76.4 L155.0,74.9 L151.4,73.9 L148.3,73.7 L145.8,74.1 L143.5,72.8 L141.4,71.7 L140.4,69.8 L138.0,70.3 L136.6,72.1 L137.2,74.2 L134.3,74.7 L133.0,76.5 L130.8,77.9 L128.8,78.3 L129.8,76.4 L129.1,74.7 L130.3,72.3 L132.2,70.4 L133.2,69.4 L131.3,69.3 L129.7,70.6 L128.1,72.9 L126.5,75.5 L124.1,77.3 L125.7,79.5 L123.3,82.2 L120.4,84.8 L117.9,86.9 L115.1,88.4 L113.1,89.4 L110.2,91.2 L107.6,92.1 L105.0,93.0 L102.0,93.3 L100.1,93.8 L96.4,94.5 L96.4,93.2 L100.6,92.6 L104.2,90.7 L108.0,90.0 L110.6,88.2 L112.8,86.6 L115.2,84.0 L116.1,81.6 L117.5,79.3 L116.2,79.0 L114.3,77.9 L113.1,80.3 L111.4,78.1 L110.2,77.3 L106.9,78.3 L106.2,78.1 L107.5,76.4 L107.2,74.2 L107.6,72.0 L106.2,72.4 L103.2,72.3 L101.7,69.1 L101.7,66.4 L100.6,63.9 L102.2,61.7 L104.2,59.9 L104.8,58.3 L107.1,58.4 L109.8,57.6 L111.7,57.9 L112.7,56.3 L113.0,53.8 L112.7,52.0 L111.1,52.8 L109.1,53.1 L107.4,52.5 L104.8,52.1 L103.2,51.1 L103.6,48.5 L101.3,46.4 L105.3,44.6 L108.3,43.9 L109.7,44.2 L109.1,46.1 L111.0,46.6 L112.4,47.2 L113.3,45.6 L111.8,43.1 L110.1,41.9 L109.4,39.1 L107.5,36.5 L106.4,35.6 L107.9,33.6 L110.6,33.8 L113.5,31.1 L115.5,29.1 L118.5,28.1 L121.5,27.7 L123.8,25.7 L125.8,27.1 L126.5,28.2 L129.8,28.5 L130.4,30.0 L132.2,30.1 L135.1,30.4 L138.8,31.0 L142.4,30.9Z"/>
<path class="land" d="M97.5,55.6 L94.6,55.1 L92.0,53.4 L92.6,52.0 L95.5,53.6 L97.4,54.6Z M99.9,69.5 L97.3,71.1 L96.4,69.3 L98.5,68.8Z M92.4,96.0 L90.3,97.2 L87.8,97.5 L90.1,95.9 L91.8,95.4Z M87.8,96.6 L85.0,98.2 L84.3,97.8 L86.9,96.1Z M85.8,64.4 L86.7,65.7 L85.6,63.7Z M86.9,79.8 L86.4,79.8 L86.8,79.5Z"/>
<path class="bd" style="stroke-width:.9" d="M82.3,97.9 L80.1,98.1 M75.2,97.8 L71.0,97.2 L68.3,96.8 M65.3,96.3 L62.9,95.8 L60.6,95.2 M58.8,94.6 L57.3,95.1 M52.6,92.6 L52.2,89.8 M50.6,88.9 L49.7,88.2 M42.9,82.6 L42.2,81.7 M42.7,80.0 L41.3,78.7 M94.4,95.6 L93.5,95.0"/>
<path class="land" d="M155.3,71.1 L158,72 L161,74.4 L164.2,71.9 L167.5,74.6 L170.6,77.6 L173,80.5 L175.5,83.2 L180.3,84.8 L181.9,88.1 L180.3,90.6 L177.9,91.8 L175.3,90.2 L173.1,89.7 L170,86.8 L167.4,84 L165,81.4 L162.6,79.2 L158.5,76 Z"/>
<path class="bd" d="M163.4,78.6 L167,81.6 L170.5,84.6 L174,87.6 L177.5,90 M165.8,77.2 L169,79.8 L172.5,83.2 L174.6,85.6 M168.5,82 L170,80.9 M172,86 L174,84.5"/>
<path class="land" d="M122.3,87.3 L124.7,84 L128.7,80.8 L129.5,83.2 L126.3,87.3 L123.9,89.2 Z"/>
<path class="bd" style="stroke-width:1;stroke-dasharray:3.2 1" d="M61.2,94.4 L67,96.1 L74.3,97.6 L81.5,97.6 L88.8,96.6 L96.1,94.7"/>
<path class="land" d="M96.5,94.9 L99,93.6 L102,92.6 L105,91.5 L104.6,92.6 L101.5,94 L98.5,95.3 Z"/>
<path class="land" d="M102.3,392.6 L106,391.8 L112.6,393.9 L116,397.5 L119,401.6 L117.5,404.5 L113,406.5 L109.5,410.5 L107.4,411.9 L104.5,411 L103.5,408 L104,404.5 L101,400.3 L102,396Z M91.9,382.3 L94,381.5 L95.5,383.5 L98,383.8 L101,385.5 L100.5,387.3 L97.5,387.8 L95.5,386.5 L94,387.5 L92.5,385.5Z M83.4,381 L86,380.8 L90.6,381.3 L90.2,382.6 L85,382.6Z M87.3,383.8 L89,383.4 L90,385 L88.6,386.3 L87.2,385.5Z M91.9,388 L93.6,388 L93.9,389.2 L92.2,389.2Z M70,373.2 L73,372.8 L74.6,375.2 L75.2,377.5 L77.8,378.2 L76.5,379.5 L73.5,378.5 L71.8,377 L69.5,375.5Z M48.6,366.8 L51,365.6 L54.4,366.2 L55,369 L53.5,371.2 L50.5,371.6 L48.4,369.5Z M42.2,371.5 L43.6,370.2 L44.4,371 L43,373 L42.1,373.4Z"/>
<path class="land" d="M523.3,400.2 L525.8,397.5 L531.9,397.1 L538.7,397.5 L549.5,397.9 L557.6,398.6 L562.4,399.6 L565.8,400.5 L565.1,402.9 L564.4,405.6 L561.7,408.4 L559.7,410.4 L554.9,411.1 L549.5,412.2 L542.7,411.7 L535.9,411.5 L530.5,412 L525.8,411.5 L524.4,409 L525.1,405 L524.4,402.3Z M566.2,406.7 L569,406.2 L572.5,406.4 L572.5,407.5 L568.5,408 L566.3,407.8Z M570.8,401.6 L573,401.3 L573.4,402.4 L571,402.7Z"/>
<circle class="land" cx="507.8" cy="407.8" r="1.2"/>
<g id="leaders">
<polyline class="ld" points="533,195.8 523.2,199"/>
<polyline class="ld" points="544.5,213.9 527.5,213.9 524,209.5"/>
<polyline class="ld" points="531.3,220.3 512,211.2"/>
<polyline class="ld" points="508.3,232.3 501.5,232.1"/>
<polyline class="ld" points="523.2,248.3 499.5,246"/>
<polyline class="ld" points="504,274.2 481.5,249.8"/>
<polyline class="ld" points="502.2,258.3 497.5,257"/>
</g>
<g id="legend">
<circle cx="386.9" cy="95.4" r="19.3" fill="#993404" class="pc"/>
<circle cx="390.9" cy="114.7" r="15.3" fill="#d95f0e" class="pc"/>
<circle cx="394.75" cy="130.7" r="11.45" fill="#fe9929" class="pc"/>
<circle cx="398.65" cy="143.2" r="7.55" fill="#fed98e" class="pc"/>
<circle cx="402.65" cy="150.8" r="3.55" fill="#ffffd4" class="pc"/>
<line x1="406.7" y1="96.0" x2="410.7" y2="96.0" class="lt2"/>
<text x="412.6" y="98.85" class="lg" textLength="60.1" lengthAdjust="spacingAndGlyphs">25 million or more</text>
<line x1="406.7" y1="112.55" x2="410.7" y2="109.8" class="lt2"/>
<text x="412.6" y="112.64999999999999" class="lg" textLength="105.4" lengthAdjust="spacingAndGlyphs">10 million to less than 25 million</text>
<line x1="406.7" y1="127.39999999999999" x2="410.7" y2="123.5" class="lt2"/>
<text x="412.6" y="126.35" class="lg" textLength="101.7" lengthAdjust="spacingAndGlyphs">5 million to less than 10 million</text>
<line x1="406.7" y1="140.45" x2="410.7" y2="137.1" class="lt2"/>
<text x="412.6" y="139.95" class="lg" textLength="96.4" lengthAdjust="spacingAndGlyphs">1 million to less than 5 million</text>
<line x1="406.7" y1="151.15000000000003" x2="410.7" y2="150.9" class="lt2"/>
<text x="412.6" y="153.75" class="lg" textLength="59.7" lengthAdjust="spacingAndGlyphs">Less than 1 million</text>
</g>
<g id="circles">
<circle cx="107.4" cy="260" r="19.3" fill="#993404" class="pc"/>
<circle cx="287.1" cy="348.1" r="19.3" fill="#993404" class="pc"/>
<circle cx="374.4" cy="249.7" r="15.3" fill="#d95f0e" class="pc"/>
<circle cx="408" cy="211" r="15.3" fill="#d95f0e" class="pc"/>
<circle cx="430" cy="242.6" r="15.3" fill="#d95f0e" class="pc"/>
<circle cx="436.9" cy="327.6" r="15.3" fill="#d95f0e" class="pc"/>
<circle cx="459.6" cy="374.3" r="15.3" fill="#d95f0e" class="pc"/>
<circle cx="478.3" cy="290.7" r="15.3" fill="#d95f0e" class="pc"/>
<circle cx="470.8" cy="228.9" r="15.3" fill="#d95f0e" class="pc"/>
<circle cx="486.6" cy="199.8" r="15.3" fill="#d95f0e" class="pc"/>
<circle cx="133.2" cy="146.2" r="11.45" fill="#fe9929" class="pc"/>
<circle cx="235.5" cy="260.9" r="11.45" fill="#fe9929" class="pc"/>
<circle cx="174" cy="305.9" r="11.45" fill="#fe9929" class="pc"/>
<circle cx="329.2" cy="183" r="11.45" fill="#fe9929" class="pc"/>
<circle cx="347.5" cy="271.6" r="11.45" fill="#fe9929" class="pc"/>
<circle cx="366.3" cy="199.6" r="11.45" fill="#fe9929" class="pc"/>
<circle cx="402.3" cy="247.9" r="11.45" fill="#fe9929" class="pc"/>
<circle cx="403.7" cy="296.6" r="11.45" fill="#fe9929" class="pc"/>
<circle cx="403.7" cy="329.7" r="11.45" fill="#fe9929" class="pc"/>
<circle cx="461.1" cy="312.7" r="11.45" fill="#fe9929" class="pc"/>
<circle cx="474" cy="266" r="11.45" fill="#fe9929" class="pc"/>
<circle cx="519.7" cy="233.4" r="11.45" fill="#fe9929" class="pc"/>
<circle cx="513.6" cy="260.2" r="11.45" fill="#fe9929" class="pc"/>
<circle cx="544.2" cy="194.2" r="11.45" fill="#fe9929" class="pc"/>
<circle cx="120.8" cy="183.5" r="7.55" fill="#fed98e" class="pc"/>
<circle cx="167.3" cy="194.6" r="7.55" fill="#fed98e" class="pc"/>
<circle cx="215.6" cy="168.6" r="7.55" fill="#fed98e" class="pc"/>
<circle cx="141.5" cy="239.4" r="7.55" fill="#fed98e" class="pc"/>
<circle cx="184.8" cy="249.7" r="7.55" fill="#fed98e" class="pc"/>
<circle cx="226.3" cy="310.2" r="7.55" fill="#fed98e" class="pc"/>
<circle cx="306.5" cy="304.0" r="7.55" fill="#fed98e" class="pc"/>
<circle cx="297" cy="270.3" r="7.55" fill="#fed98e" class="pc"/>
<circle cx="287.1" cy="236" r="7.55" fill="#fed98e" class="pc"/>
<circle cx="338.1" cy="229.8" r="7.55" fill="#fed98e" class="pc"/>
<circle cx="350.1" cy="311" r="7.55" fill="#fed98e" class="pc"/>
<circle cx="351.1" cy="348.8" r="7.55" fill="#fed98e" class="pc"/>
<circle cx="418.5" cy="274.3" r="7.55" fill="#fed98e" class="pc"/>
<circle cx="377.1" cy="332.7" r="7.55" fill="#fed98e" class="pc"/>
<circle cx="449.3" cy="259.6" r="7.55" fill="#fed98e" class="pc"/>
<circle cx="537.9" cy="224.2" r="7.55" fill="#fed98e" class="pc"/>
<circle cx="551.9" cy="213.9" r="7.55" fill="#fed98e" class="pc"/>
<circle cx="514.8" cy="189" r="7.55" fill="#fed98e" class="pc"/>
<circle cx="527.6" cy="164.9" r="7.55" fill="#fed98e" class="pc"/>
<circle cx="77.6" cy="395.2" r="7.55" fill="#fed98e" class="pc"/>
<circle cx="543" cy="404.5" r="7.55" fill="#fed98e" class="pc"/>
<circle cx="224.0" cy="214.5" r="3.55" fill="#ffffd4" class="pc1"/>
<circle cx="284.1" cy="170.7" r="3.55" fill="#ffffd4" class="pc1"/>
<circle cx="284.5" cy="203.4" r="3.55" fill="#ffffd4" class="pc1"/>
<circle cx="526.6" cy="249" r="3.55" fill="#ffffd4" class="pc1"/>
<circle cx="506.4" cy="276.7" r="3.55" fill="#ffffd4" class="pc1"/>
<circle cx="503.5" cy="186.9" r="3.55" fill="#ffffd4" class="pc1"/>
<circle cx="129.4" cy="54.1" r="3.55" fill="#ffffd4" class="pc1"/>
<text transform="translate(133.2,149.20) scale(0.84,1)" class="lbl">WA</text>
<text transform="translate(120.8,186.50) scale(0.84,1)" class="lbl">OR</text>
<text transform="translate(167.3,197.60) scale(0.84,1)" class="lbl">ID</text>
<text transform="translate(215.6,171.60) scale(0.84,1)" class="lbl">MT</text>
<text transform="translate(224.0,209.10) scale(0.84,1)" class="lbl">WY</text>
<text transform="translate(284.1,165.30) scale(0.84,1)" class="lbl">ND</text>
<text transform="translate(284.5,198.00) scale(0.84,1)" class="lbl">SD</text>
<text transform="translate(141.5,242.40) scale(0.84,1)" class="lbl">NV</text>
<text transform="translate(184.8,252.70) scale(0.84,1)" class="lbl">UT</text>
<text transform="translate(235.5,263.90) scale(0.84,1)" class="lbl">CO</text>
<text transform="translate(174,308.90) scale(0.84,1)" class="lbl">AZ</text>
<text transform="translate(226.3,313.20) scale(0.84,1)" class="lbl">NM</text>
<text transform="translate(107.4,263.00) scale(0.78,1)" class="lbl lt">CA</text>
<text transform="translate(287.1,351.10) scale(0.78,1)" class="lbl lt">TX</text>
<text transform="translate(306.5,307.00) scale(0.84,1)" class="lbl">OK</text>
<text transform="translate(297,273.30) scale(0.84,1)" class="lbl">KS</text>
<text transform="translate(287.1,239.00) scale(0.84,1)" class="lbl">NE</text>
<text transform="translate(329.2,186.00) scale(0.84,1)" class="lbl">MN</text>
<text transform="translate(338.1,232.80) scale(0.84,1)" class="lbl">IA</text>
<text transform="translate(347.5,274.60) scale(0.84,1)" class="lbl">MO</text>
<text transform="translate(350.1,314.00) scale(0.84,1)" class="lbl">AR</text>
<text transform="translate(351.1,351.80) scale(0.84,1)" class="lbl">LA</text>
<text transform="translate(366.3,202.60) scale(0.84,1)" class="lbl">WI</text>
<text transform="translate(374.4,252.70) scale(0.84,1)" class="lbl">IL</text>
<text transform="translate(408,214.00) scale(0.84,1)" class="lbl">MI</text>
<text transform="translate(402.3,250.90) scale(0.84,1)" class="lbl">IN</text>
<text transform="translate(430,245.60) scale(0.84,1)" class="lbl">OH</text>
<text transform="translate(418.5,277.30) scale(0.84,1)" class="lbl">KY</text>
<text transform="translate(403.7,299.60) scale(0.84,1)" class="lbl">TN</text>
<text transform="translate(377.1,335.70) scale(0.84,1)" class="lbl">MS</text>
<text transform="translate(403.7,332.70) scale(0.84,1)" class="lbl">AL</text>
<text transform="translate(436.9,330.60) scale(0.84,1)" class="lbl">GA</text>
<text transform="translate(459.6,377.30) scale(0.84,1)" class="lbl">FL</text>
<text transform="translate(461.1,315.70) scale(0.84,1)" class="lbl">SC</text>
<text transform="translate(478.3,293.70) scale(0.84,1)" class="lbl">NC</text>
<text transform="translate(474,269.00) scale(0.84,1)" class="lbl">VA</text>
<text transform="translate(449.3,262.60) scale(0.84,1)" class="lbl">WV</text>
<text transform="translate(470.8,231.90) scale(0.84,1)" class="lbl">PA</text>
<text transform="translate(486.6,202.80) scale(0.84,1)" class="lbl">NY</text>
<text transform="translate(519.7,236.40) scale(0.84,1)" class="lbl">NJ</text>
<text transform="translate(513.6,263.20) scale(0.84,1)" class="lbl">MD</text>
<text transform="translate(532.2,252.00) scale(0.84,1)" class="lbl" style="text-anchor:start">DE</text>
<text transform="translate(512.0,279.70) scale(0.84,1)" class="lbl" style="text-anchor:start">DC</text>
<text transform="translate(537.9,227.20) scale(0.84,1)" class="lbl">CT</text>
<text transform="translate(551.9,216.90) scale(0.84,1)" class="lbl">RI</text>
<text transform="translate(544.2,197.20) scale(0.84,1)" class="lbl">MA</text>
<text transform="translate(514.8,192.00) scale(0.84,1)" class="lbl">NH</text>
<text transform="translate(503.5,181.50) scale(0.84,1)" class="lbl">VT</text>
<text transform="translate(527.6,167.90) scale(0.84,1)" class="lbl">ME</text>
<text transform="translate(129.4,48.70) scale(0.84,1)" class="lbl">AK</text>
<text transform="translate(77.6,398.20) scale(0.84,1)" class="lbl">HI</text>
<text transform="translate(543,407.50) scale(0.84,1)" class="lbl">PR</text>
</g>
<g id="totals">
<text x="503.1" y="347.5" class="tp" style="font-weight:bold;font-size:7px" textLength="73.9" lengthAdjust="spacingAndGlyphs">Total Resident Population</text>
<line x1="503.1" y1="348.75" x2="577.2" y2="348.75" stroke="#231f20" stroke-width=".8"/>
<text x="503.1" y="357.9" class="tp" textLength="36.6" lengthAdjust="spacingAndGlyphs">United States:</text>
<text x="547" y="357.9" class="tp" textLength="30" lengthAdjust="spacingAndGlyphs">331,449,281</text>
<text x="503.1" y="367.5" class="tp" textLength="31.5" lengthAdjust="spacingAndGlyphs">Puerto Rico:</text>
<text x="552.2" y="367.5" class="tp" textLength="24.8" lengthAdjust="spacingAndGlyphs">3,285,874</text>
</g>
<g id="footer">
<rect x="0" y="430" width="620" height="49" fill="#686868"/>
<rect x="619" y="430" width="1" height="49" fill="#7c7c7c"/>
<g fill="#fff">
<text x="45.2" y="445.7" style="font-family:'Liberation Serif',serif;font-size:9.6px;font-weight:bold" textLength="51.5" lengthAdjust="spacingAndGlyphs">United States</text>
<text x="97" y="441.8" style="font-size:3px">®</text>
<text x="31.6" y="459.5" style="font-size:22.3px;font-weight:bold;stroke:#fff;stroke-width:.45" textLength="66.8" lengthAdjust="spacingAndGlyphs">Census</text>
<rect x="31.8" y="463.2" width="44" height="3"/>
<text x="78.2" y="466.7" style="font-size:6.4px;font-weight:bold" textLength="19.7" lengthAdjust="spacingAndGlyphs">Bureau</text>
<rect x="109.1" y="439.3" width=".6" height="27.4" fill="#c4c4c4"/>
<text x="117.5" y="448.1" style="font-size:7.7px;stroke:#fff;stroke-width:.22" textLength="94.9" lengthAdjust="spacingAndGlyphs">U.S. Department of Commerce</text>
<text x="117.5" y="455" style="font-size:5.2px;stroke:#fff;stroke-width:.12" textLength="54.6" lengthAdjust="spacingAndGlyphs">U.S. CENSUS BUREAU</text>
<text x="117.5" y="461.5" style="font-size:6.7px;font-weight:bold;font-style:italic" textLength="33.7" lengthAdjust="spacingAndGlyphs">census.gov</text>
<text x="549.2" y="443.6" style="font-family:'Liberation Serif',serif;font-size:6.9px;font-weight:bold" textLength="39.3" lengthAdjust="spacingAndGlyphs">United States</text>
<text x="588.8" y="440.8" style="font-size:2.4px">®</text>
<text x="540.8" y="453.9" style="font-size:16px;font-weight:bold;stroke:#fff;stroke-width:.3" textLength="48.2" lengthAdjust="spacingAndGlyphs">Census</text>
<text x="549.2" y="466.5" style="font-size:15.6px;font-weight:bold;stroke:#fff;stroke-width:.3" textLength="32.4" lengthAdjust="spacingAndGlyphs">2020</text>
</g>
</g>
</svg>
</body></html>
